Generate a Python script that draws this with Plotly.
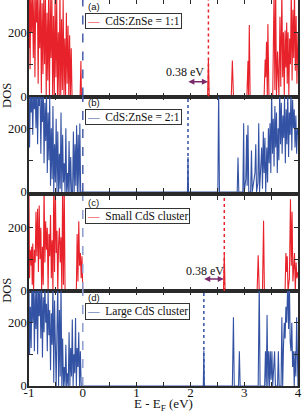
import plotly.graph_objects as go

# ---------------- data ----------------
e_a = [-1.00, -0.99, -0.98, -0.965, -0.95, -0.935, -0.92, -0.905, -0.89, -0.875, -0.86, -0.845, -0.83, -0.815,
       -0.80, -0.785, -0.77, -0.755, -0.74, -0.725, -0.71, -0.695, -0.68, -0.665, -0.65, -0.635, -0.62, -0.605,
       -0.59, -0.575, -0.56, -0.545, -0.53, -0.515, -0.50, -0.485, -0.47, -0.455, -0.44, -0.425, -0.41, -0.395,
       -0.38, -0.365, -0.35, -0.335, -0.32, -0.305, -0.29, -0.275, -0.26, -0.245, -0.23, -0.215, -0.20, -0.17,
       -0.05, -0.035, -0.025,
       2.32, 2.335, 2.35, 2.76, 2.78, 2.80, 3.05, 3.07, 3.08, 3.095, 3.11, 3.37, 3.39, 3.40, 3.415, 3.43, 3.44,
       3.46, 3.53, 3.555, 3.57, 3.585, 3.60, 3.62, 3.645, 3.665, 3.68, 3.70, 3.715, 3.73, 3.745, 3.76, 3.775,
       3.79, 3.80, 3.815, 3.83, 3.845, 3.86, 3.875, 3.89, 3.905, 3.92, 3.935, 3.95, 3.965, 3.98, 4.0]
dos_a = [150, 320, 85, 330, 200, 320, 120, 330, 60, 310, 230, 330, 40, 300, 150, 330, 10, 290, 70, 330, 100, 320,
         0, 260, 50, 330, 0, 300, 120, 330, 0, 250, 0, 320, 60, 300, 0, 200, 0, 330, 0, 240, 20, 300, 0, 180, 0,
         260, 40, 220, 0, 190, 0, 150, 0, 0, 0, 110, 0,
         0, 115, 0, 0, 112, 0, 0, 110, 0, 222, 0, 0, 115, 60, 170, 0, 225, 0, 0, 330, 20, 330, 0, 140, 0, 248,
         30, 330, 60, 200, 0, 205, 90, 230, 40, 200, 0, 180, 100, 330, 50, 270, 120, 330, 80, 250, 40, 200]

e_b = [-1.00, -0.99, -0.975, -0.96, -0.945, -0.93, -0.915, -0.90, -0.885, -0.87, -0.855, -0.84, -0.825, -0.81,
       -0.795, -0.78, -0.765, -0.75, -0.735, -0.72, -0.705, -0.69, -0.675, -0.66, -0.645, -0.63, -0.615, -0.60,
       -0.585, -0.57, -0.555, -0.54, -0.525, -0.51, -0.495, -0.48, -0.465, -0.45, -0.435, -0.42, -0.405, -0.39,
       -0.375, -0.36, -0.345, -0.33, -0.315, -0.30, -0.285, -0.27, -0.255, -0.24, -0.225, -0.21, -0.19, -0.175,
       -0.16, -0.145, -0.13, -0.115, -0.10, -0.085, -0.07, -0.055, -0.04,
       1.945, 1.955, 1.965, 2.51, 2.525, 2.54, 2.87, 2.885, 2.90, 2.975, 2.99, 3.00, 3.03, 3.045, 3.055, 3.07,
       3.085, 3.12, 3.135, 3.15, 3.20, 3.215, 3.23, 3.255, 3.27, 3.285, 3.31, 3.325, 3.34, 3.355, 3.37, 3.385,
       3.40, 3.42, 3.435, 3.45, 3.465, 3.48, 3.495, 3.51, 3.525, 3.54, 3.555, 3.57, 3.585, 3.60, 3.615, 3.63,
       3.645, 3.66, 3.675, 3.69, 3.705, 3.72, 3.735, 3.75, 3.765, 3.78, 3.795, 3.81, 3.825, 3.84, 3.855, 3.87,
       3.885, 3.90, 3.915, 3.93, 3.945, 3.96, 3.975, 3.99, 4.0]
dos_b = [300, 140, 310, 250, 320, 180, 330, 260, 320, 200, 330, 150, 310, 270, 330, 120, 300, 220, 330, 90, 280,
         160, 320, 60, 250, 100, 300, 20, 200, 40, 270, 0, 150, 30, 230, 0, 190, 0, 120, 10, 250, 0, 180, 30, 90,
         0, 200, 0, 60, 0, 160, 0, 110, 0, 0, 190, 0, 150, 20, 210, 0, 180, 0, 215, 0,
         0, 110, 0, 0, 320, 0, 0, 108, 0, 0, 216, 0, 40, 180, 20, 210, 0, 0, 130, 0, 60, 150, 0, 30, 216, 0, 80,
         140, 10, 190, 60, 170, 0, 140, 30, 200, 90, 216, 60, 320, 120, 230, 80, 270, 140, 250, 60, 200, 100, 330,
         150, 280, 120, 240, 170, 300, 90, 260, 150, 320, 110, 250, 180, 330, 130, 290, 200, 260, 140, 240, 120,
         200, 180]

e_c = [-1.00, -0.99, -0.98, -0.97, -0.96, -0.95, -0.94, -0.93, -0.915, -0.90, -0.885, -0.87, -0.855, -0.84,
       -0.825, -0.81, -0.795, -0.78, -0.765, -0.75, -0.735, -0.72, -0.705, -0.69, -0.675, -0.66, -0.645, -0.63,
       -0.615, -0.60, -0.585, -0.57, -0.555, -0.54, -0.525, -0.51, -0.495, -0.48, -0.465, -0.45, -0.435, -0.42,
       -0.405, -0.39, -0.375, -0.36, -0.345, -0.33, -0.30, -0.12, -0.105, -0.09, -0.075, -0.06, -0.045, -0.03,
       -0.015, 0.0,
       2.615, 2.63, 2.645, 3.24, 3.26, 3.28, 3.34, 3.36, 3.375, 3.76, 3.775, 3.79, 3.80, 3.815, 3.84, 3.86,
       3.875, 3.89, 3.905, 3.92, 3.935, 3.95, 3.965, 3.98, 4.0]
dos_c = [300, 40, 130, 120, 80, 140, 20, 150, 0, 130, 90, 250, 110, 260, 60, 270, 100, 200, 0, 140, 20, 330, 90,
         220, 130, 200, 0, 180, 110, 240, 40, 160, 0, 330, 60, 330, 120, 190, 0, 150, 200, 90, 170, 0, 330, 20,
         330, 0, 0, 0, 180, 30, 220, 80, 120, 40, 110, 0,
         0, 115, 0, 0, 113, 0, 0, 222, 0, 0, 120, 60, 110, 0, 40, 290, 80, 250, 30, 110, 120, 0, 90, 40, 60]

e_d = [-1.00, -0.99, -0.975, -0.96, -0.945, -0.93, -0.915, -0.90, -0.885, -0.87, -0.855, -0.84, -0.825, -0.81,
       -0.795, -0.78, -0.765, -0.75, -0.735, -0.72, -0.705, -0.69, -0.675, -0.66, -0.645, -0.63, -0.615, -0.60,
       -0.585, -0.57, -0.555, -0.54, -0.525, -0.51, -0.495, -0.48, -0.465, -0.45, -0.435, -0.42, -0.405, -0.39,
       -0.375, -0.36, -0.345, -0.33, -0.315, -0.30, -0.285, -0.27, -0.255, -0.24, -0.225, -0.21, -0.195, -0.18,
       -0.165, -0.15, -0.135, -0.12, -0.105, -0.09, -0.075, -0.06, -0.045, -0.03, 0.0,
       2.24, 2.25, 2.26, 2.78, 2.80, 2.815, 2.895, 2.91, 2.925, 3.26, 3.28, 3.295, 3.38, 3.395, 3.41, 3.425,
       3.44, 3.455, 3.47, 3.485, 3.50, 3.515, 3.53, 3.565, 3.58, 3.62, 3.635, 3.65, 3.685, 3.70, 3.715, 3.73,
       3.745, 3.76, 3.775, 3.79, 3.80, 3.81, 3.825, 3.84, 3.855, 3.87, 3.885, 3.90, 3.915, 3.93, 3.945, 3.96,
       3.975, 3.99, 4.0]
dos_d = [330, 100, 250, 120, 330, 200, 330, 110, 300, 180, 330, 100, 330, 220, 310, 150, 330, 90, 280, 170, 330,
         200, 260, 110, 300, 160, 240, 50, 230, 130, 330, 10, 270, 100, 0, 180, 330, 0, 240, 30, 330, 0, 150, 0,
         60, 0, 130, 0, 40, 0, 170, 0, 120, 30, 210, 0, 100, 40, 215, 0, 120, 60, 170, 0, 110, 0, 0,
         0, 112, 0, 0, 217, 0, 0, 110, 0, 0, 330, 0, 0, 110, 0, 224, 0, 110, 0, 110, 20, 110, 0, 110, 0, 0, 110,
         0, 0, 217, 0, 120, 200, 150, 250, 200, 300, 330, 180, 330, 140, 110, 200, 60, 110, 0, 110, 30, 217, 0, 0]

series_names = ["CdS:ZnSe = 1:1", "CdS:ZnSe = 2:1", "Small CdS cluster", "Large CdS cluster"]
panel_labels = ["(a)", "(b)", "(c)", "(d)"]
band_edges = [2.335, 1.955, 2.63, 2.25]          # dotted lines (CBM)
gap_text = "0.38 eV"
x_tickvals = [-1, -0.5, 0, 0.5, 1, 1.5, 2, 2.5, 3, 3.5, 4]
x_ticktext = ["-1", "", "0", "", "1", "", "2", "", "3", "", "4"]
y_tickvals = [0, 100, 200]
y_ticktext = ["0", "", "200"]

# ---------------- style ----------------
FONT = "Liberation Serif, Times New Roman, serif"
RED = "#e8222a"
BLUE = "#3352a4"
PURPLE = "#7a2a6a"
AX = "#2a2a2a"
colors = [RED, BLUE, RED, BLUE]
domains = [[0.75, 1.0], [0.5026, 0.75], [0.2461, 0.4922], [0.0, 0.2461]]
zero_colors = ["#4a5fae", "#4a5fae", "#8e9dd2", "#8e9dd2"]

data = [(e_a, dos_a), (e_b, dos_b), (e_c, dos_c), (e_d, dos_d)]

fig = go.Figure()
layout = dict(
    width=304, height=415,
    margin=dict(l=29, r=6, t=0, b=29, autoexpand=False),
    paper_bgcolor="white", plot_bgcolor="white",
    font=dict(family=FONT, size=12, color="#111"),
    showlegend=False,
)
shapes = []
annotations = []

for i, (e, d) in enumerate(data):
    k = "" if i == 0 else str(i + 1)
    fig.add_trace(go.Scatter(x=e, y=d, mode="lines", name=series_names[i],
                             line=dict(color=colors[i], width=1.1),
                             xaxis="x" + k, yaxis="y" + k, showlegend=False))
    xa = dict(domain=[0, 1], range=[-1, 4], anchor="y" + k,
              tickmode="array", tickvals=x_tickvals, ticktext=x_ticktext,
              ticks="inside", ticklen=4, tickwidth=1, tickcolor=AX,
              showline=True, linewidth=1.5, linecolor=AX, mirror="allticks",
              showgrid=False, zeroline=False, showticklabels=(i == 3),
              ticklabelstandoff=-6,
              tickfont=dict(family=FONT, size=13), automargin=False)
    if i > 0:
        xa["matches"] = "x"
    ya = dict(domain=domains[i], range=[0, 300], anchor="x" + k,
              tickmode="array", tickvals=y_tickvals, ticktext=y_ticktext,
              ticks="inside", ticklen=4, tickwidth=1, tickcolor=AX,
              showline=True, linewidth=1.5, linecolor=AX, mirror="allticks",
              showgrid=False, zeroline=False, automargin=False,
              ticklabelstandoff=-2,
              tickfont=dict(family=FONT, size=12.5))
    layout["xaxis" + k] = xa
    layout["yaxis" + k] = ya

    # Fermi level (dashed) and band-edge (dotted) lines
    shapes.append(dict(type="line", xref="x" + k, yref="y" + k + " domain", x0=0, x1=0, y0=0, y1=1,
                       line=dict(color=zero_colors[i], width=1.5, dash="dash")))
    shapes.append(dict(type="line", xref="x" + k, yref="y" + k + " domain",
                       x0=band_edges[i], x1=band_edges[i], y0=0, y1=1,
                       line=dict(color=colors[i], width=1.5, dash="dot")))

    # panel label
    annotations.append(dict(xref="x" + k, yref="y" + k, x=0.055, y=280, xanchor="left", yanchor="middle",
                            text=panel_labels[i], showarrow=False,
                            font=dict(family="Liberation Sans, Arial, sans-serif", size=9.5, color="#111")))
    # legend-like box
    annotations.append(dict(xref="x" + k, yref="y" + k, x=0.04, y=261, xanchor="left", yanchor="top",
                            text="<span style='color:%s'>—</span>  %s" % (colors[i], series_names[i]),
                            showarrow=False, bordercolor="#333", borderwidth=1, borderpad=1,
                            bgcolor="white", font=dict(family=FONT, size=11.5, color="#111")))

# gap arrows + text (panels a and c)
for i, j, ya_arrow, ya_text, xt in [(0, 1, 46, 76, 1.90), (2, 3, 38, 64, 2.27)]:
    k = "" if i == 0 else str(i + 1)
    x_lo, x_hi = band_edges[j], band_edges[i]
    annotations.append(dict(xref="x" + k, yref="y" + k, axref="x" + k, ayref="y" + k,
                            x=x_hi - 0.01, y=ya_arrow, ax=x_lo - 0.02, ay=ya_arrow, text="",
                            showarrow=True, arrowhead=2, arrowside="end+start", arrowsize=0.8,
                            arrowwidth=1.5, arrowcolor=PURPLE))
    annotations.append(dict(xref="x" + k, yref="y" + k, x=xt, y=ya_text,
                            text=gap_text, showarrow=False, xanchor="center", yanchor="middle",
                            font=dict(family=FONT, size=12, color="#111")))

# x-axis title
annotations.append(dict(xref="paper", yref="paper", x=0.5, y=-0.022, xanchor="center", yanchor="top",
                        text="E - E<sub>F</sub> (eV)", showarrow=False,
                        font=dict(family=FONT, size=13, color="#111")))

# shared DOS y titles
for yp in [0.754, 0.249]:
    annotations.append(dict(xref="paper", yref="paper", x=-0.082, y=yp, text="DOS", textangle=-90,
                            showarrow=False, xanchor="center", yanchor="middle",
                            font=dict(family=FONT, size=12.5, color="#111")))

layout["shapes"] = shapes
layout["annotations"] = annotations
fig.update_layout(**layout)
fig.write_html("out.html", config={"displayModeBar": False},
               post_script="document.body.style.margin='0';document.body.style.padding='0';")
